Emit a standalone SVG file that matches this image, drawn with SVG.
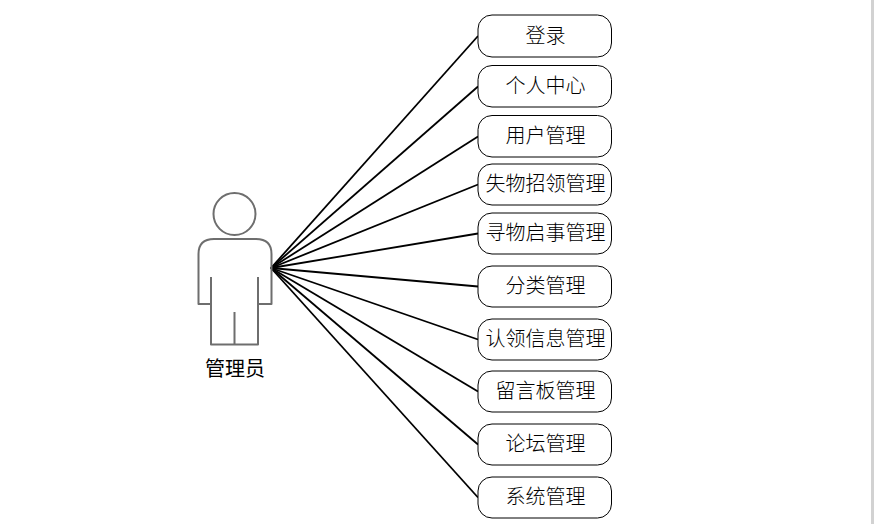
<svg xmlns="http://www.w3.org/2000/svg" width="874" height="524" viewBox="0 0 874 524">
<style>
.box{fill:#fff;stroke:#000;stroke-width:1}
.lbl{font-family:"Noto Sans CJK SC","Liberation Serif",serif;font-size:20px;fill:#000;text-anchor:middle;font-weight:300}
.conn{stroke:#000;stroke-width:1.8;fill:none}
.fig{fill:none;stroke:#6e6e6e;stroke-width:2;stroke-linejoin:round}
</style>
<rect width="874" height="524" fill="#fff"/>
<rect x="871" y="0" width="3" height="524" fill="#d2d2d2"/>
<g id="connectors">
<line class="conn" x1="271" y1="268" x2="478" y2="36"/>
<line class="conn" x1="271" y1="268" x2="478" y2="86.500"/>
<line class="conn" x1="271" y1="268" x2="478" y2="136.500"/>
<line class="conn" x1="271" y1="268" x2="478" y2="184.500"/>
<line class="conn" x1="271" y1="268" x2="478" y2="233.500"/>
<line class="conn" x1="271" y1="268" x2="478" y2="286.500"/>
<line class="conn" x1="271" y1="268" x2="478" y2="339.500"/>
<line class="conn" x1="271" y1="268" x2="478" y2="391.500"/>
<line class="conn" x1="271" y1="268" x2="478" y2="444.500"/>
<line class="conn" x1="271" y1="268" x2="478" y2="497.500"/>
</g>
<g id="actor">
<circle class="fig" cx="234.500" cy="214" r="21"/>
<path class="fig" d="M211 277V304H198.500V254Q198.500 239 214 239H256Q271.500 239 271.500 254V304H258V277M211 304V344.500H258V304M234.500 312V344.500"/>
<text x="235" y="375.500" style="font-family:'Noto Sans CJK SC','Liberation Sans',sans-serif;font-size:20px;font-weight:400;fill:#000;text-anchor:middle">管理员</text>
</g>
<g id="n1"><rect class="box" x="478" y="15" width="133.500" height="42" rx="14"/><text class="lbl" x="545.500" y="43">登录</text></g>
<g id="n2"><rect class="box" x="478" y="65.500" width="133.500" height="41.500" rx="14"/><text class="lbl" x="545.500" y="93">个人中心</text></g>
<g id="n3"><rect class="box" x="478" y="115.500" width="133.500" height="41.500" rx="14"/><text class="lbl" x="545.500" y="143">用户管理</text></g>
<g id="n4"><rect class="box" x="478" y="164" width="133.500" height="41" rx="14"/><text class="lbl" x="545.500" y="191">失物招领管理</text></g>
<g id="n5"><rect class="box" x="478" y="213" width="133.500" height="41" rx="14"/><text class="lbl" x="545.500" y="240">寻物启事管理</text></g>
<g id="n6"><rect class="box" x="478" y="266" width="133.500" height="41" rx="14"/><text class="lbl" x="545.500" y="293">分类管理</text></g>
<g id="n7"><rect class="box" x="478" y="319" width="133.500" height="41" rx="14"/><text class="lbl" x="545.500" y="346">认领信息管理</text></g>
<g id="n8"><rect class="box" x="478" y="371" width="133.500" height="41" rx="14"/><text class="lbl" x="545.500" y="398">留言板管理</text></g>
<g id="n9"><rect class="box" x="478" y="424" width="133.500" height="41" rx="14"/><text class="lbl" x="545.500" y="451">论坛管理</text></g>
<g id="n10"><rect class="box" x="478" y="477" width="133.500" height="41" rx="14"/><text class="lbl" x="545.500" y="504">系统管理</text></g>
</svg>
